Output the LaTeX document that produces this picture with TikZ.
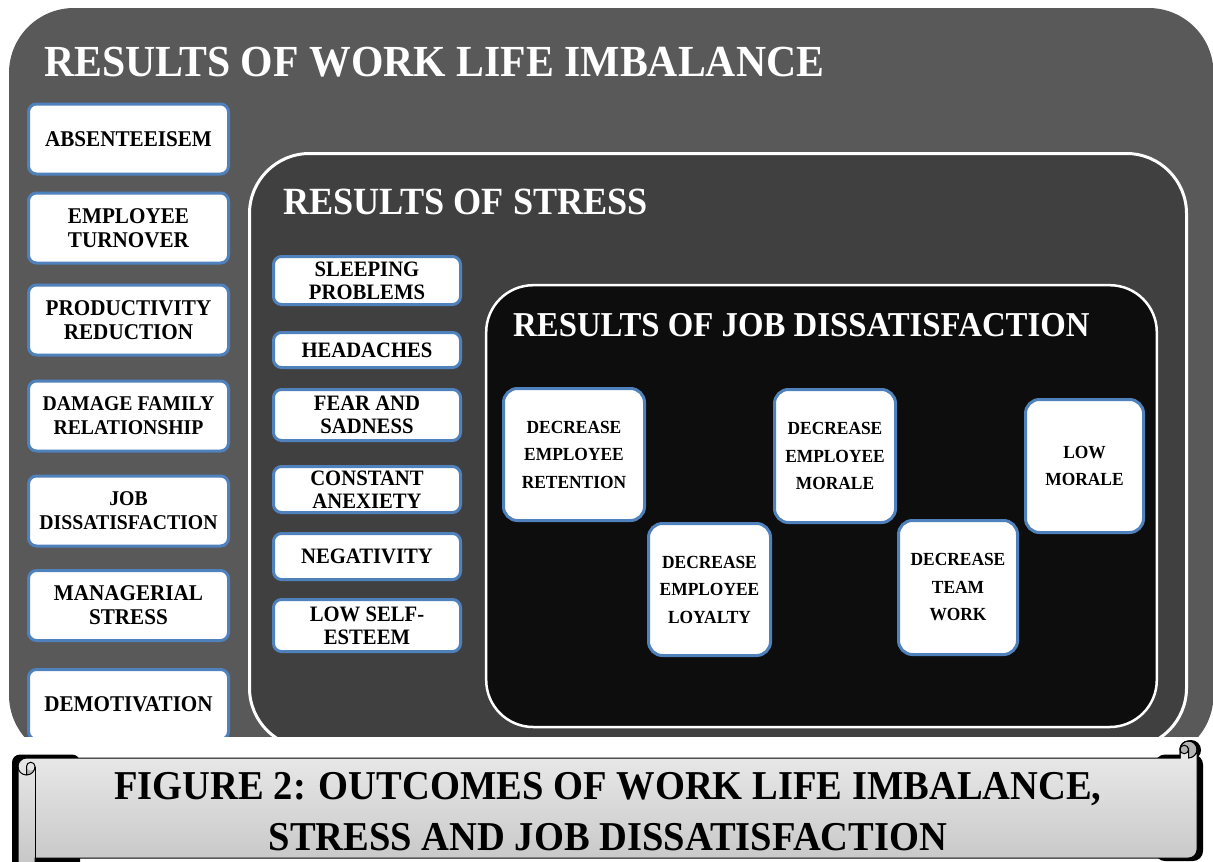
\documentclass[tikz,border=0pt]{standalone}
\usepackage{fontspec}
\setmainfont{Liberation Serif}[FakeStretch=0.94]
\definecolor{outerg}{RGB}{89,89,89}
\definecolor{midg}{RGB}{64,64,64}
\definecolor{innerk}{RGB}{13,13,13}
\definecolor{boxblue}{RGB}{79,129,189}
\definecolor{scrolltop}{RGB}{234,234,234}
\definecolor{scrollbot}{RGB}{196,196,196}
\definecolor{curlg}{RGB}{180,180,180}
\begin{document}
\begin{tikzpicture}[x=1pt,y=-1pt,
  basebox/.style={draw=boxblue, line width=3pt, fill=white, align=center, inner sep=0pt, text=black},
  lbox/.style={basebox, rounded corners=8pt, minimum width=200pt, minimum height=70pt, font=\bfseries\fontsize{22.5}{24}\selectfont},
  lboxs/.style={lbox, font=\bfseries\fontsize{21}{24}\selectfont},
  mbox/.style={basebox, rounded corners=8pt, minimum width=187pt, font=\bfseries\fontsize{22}{23}\selectfont},
  ibox/.style={basebox, rounded corners=14pt, font=\bfseries\fontsize{18.5}{27.5}\selectfont},
  title/.style={anchor=base west, inner sep=0pt, text=white, font=\bfseries\fontsize{#1}{#1}\selectfont},
  caption/.style={anchor=base, inner sep=0pt, text=black, font=\bfseries\fontsize{41}{41}\selectfont},
  scrollline/.style={draw=black, line width=1pt}
]
\useasboundingbox (0,0) rectangle (1213,862);
\begin{scope}
\clip (0,0) rectangle (1213,736);
\fill[outerg, rounded corners=65pt] (9,8) rectangle (1213.5,760);
\draw[white, line width=3pt, fill=midg, rounded corners=60pt] (249.5,153.5) rectangle (1186.5,748);
\draw[white, line width=2.5pt, fill=innerk, rounded corners=47pt] (486.2,285.2) rectangle (1156.8,727);
\node[title=44.4] (t1) at (44,76.5) {RESULTS OF WORK LIFE IMBALANCE};
\node[title=38.5] (t2) at (283,214) {RESULTS OF STRESS};
\node[title=34.9] (t3) at (513,336) {RESULTS OF JOB DISSATISFACTION};
% left column
\node[lbox] (a1) at (128.5,139) {ABSENTEEISEM};
\node[lbox] (a2) at (128.5,228) {EMPLOYEE\\TURNOVER};
\node[lbox] (a3) at (128.5,320) {PRODUCTIVITY\\REDUCTION};
\node[lboxs] (a4) at (128.5,416) {DAMAGE FAMILY\\RELATIONSHIP};
\node[lboxs] (a5) at (128.5,511) {JOB\\DISSATISFACTION};
\node[lbox] (a6) at (128.5,605.5) {MANAGERIAL\\STRESS};
\node[lbox] (a7) at (128.5,704.5) {DEMOTIVATION};
% middle column
\node[mbox, minimum height=48pt] (b1) at (367,280.5) {SLEEPING\\PROBLEMS};
\node[mbox, minimum height=35pt] (b2) at (367,350) {HEADACHES};
\node[mbox, minimum height=51pt] (b3) at (367,415) {FEAR AND\\SADNESS};
\node[mbox, minimum height=46pt] (b4) at (367,489.5) {CONSTANT\\ANEXIETY};
\node[mbox, minimum height=46pt] (b5) at (367,556.5) {NEGATIVITY};
\node[mbox, minimum height=52pt] (b6) at (367,625.5) {LOW SELF-\\ESTEEM};
% inner boxes
\node[ibox, minimum width=141pt, minimum height=132pt] (c1) at (574,454.5) {DECREASE\\EMPLOYEE\\RETENTION};
\node[ibox, minimum width=122pt, minimum height=132pt] (c2) at (709.5,589.5) {DECREASE\\EMPLOYEE\\LOYALTY};
\node[ibox, minimum width=121pt, minimum height=133pt] (c3) at (835,456) {DECREASE\\EMPLOYEE\\MORALE};
\node[ibox, minimum width=119pt, minimum height=134pt] (c4) at (958,587.5) {DECREASE\\TEAM\\WORK};
\node[ibox, minimum width=118pt, minimum height=133pt] (c5) at (1084.5,466) {LOW\\MORALE};
\end{scope}
% scroll banner
\def\L{18}\def\R{1197}\def\T{741}\def\B{875}\def\C{17}\def\CC{8.5}\def\CQ{4.25}
\def\scrollpath{(\R,\T+\CC) arc[start angle=0,end angle=90,radius=\CC] -- (\R-\CC,\T+\CC)
  arc[start angle=0,end angle=180,radius=\CQ] -- (\R-\C,\T+\C) -- (\L+\CC,\T+\C)
  arc[start angle=270,end angle=180,radius=\CC] -- (\L,\B-\CC)
  arc[start angle=180,end angle=0,radius=\CC] -- (\L+\C,\B-\C) -- (\R-\CC,\B-\C)
  arc[start angle=90,end angle=0,radius=\CC] -- cycle}
% shadow
\fill[black, rounded corners=8pt] (\L-6,\T+\C-3.5) rectangle (\L+62,\B+10);
\fill[black, rounded corners=10pt] (\R-42,\T+\C-3.5) rectangle (\R+6,\B-\C+3);
\fill[black] (\R-\CC+2.5,\T+\CC+0.5) circle[radius=\CC+1.5];
% right curl
\filldraw[fill=curlg, scrollline] (\R-\CC,\T+\CC) circle[radius=\CC];
\shade[top color=scrolltop, bottom color=scrollbot, scrollline] \scrollpath;
\draw[scrollline] (\R-\C,\T+\C) -- (\R-\C,\T+\CC) arc[start angle=180,end angle=360,radius=\CC];
\draw[scrollline] (\R-\C,\T+\CC) arc[start angle=180,end angle=360,radius=\CQ];
% left curl
\fill[curlg] (\L+\CC,\T+2*\C) arc[start angle=90,end angle=0,radius=\CC] arc[start angle=0,end angle=180,radius=\CQ] -- cycle;
\draw[scrollline] (\L+\C,\T+1.5*\C) -- (\L+\C,\B-\C);
\draw[scrollline] (\L+\CC,\T+2*\C) -- (\L+\CC,\T+1.5*\C) arc[start angle=180,end angle=360,radius=\CQ] arc[start angle=0,end angle=180,radius=\CC];
\node[caption] (cap1) at (608,799) {FIGURE 2: OUTCOMES OF WORK LIFE IMBALANCE,};
\node[caption] (cap2) at (608,850) {STRESS AND JOB DISSATISFACTION};
\end{tikzpicture}
\end{document}
